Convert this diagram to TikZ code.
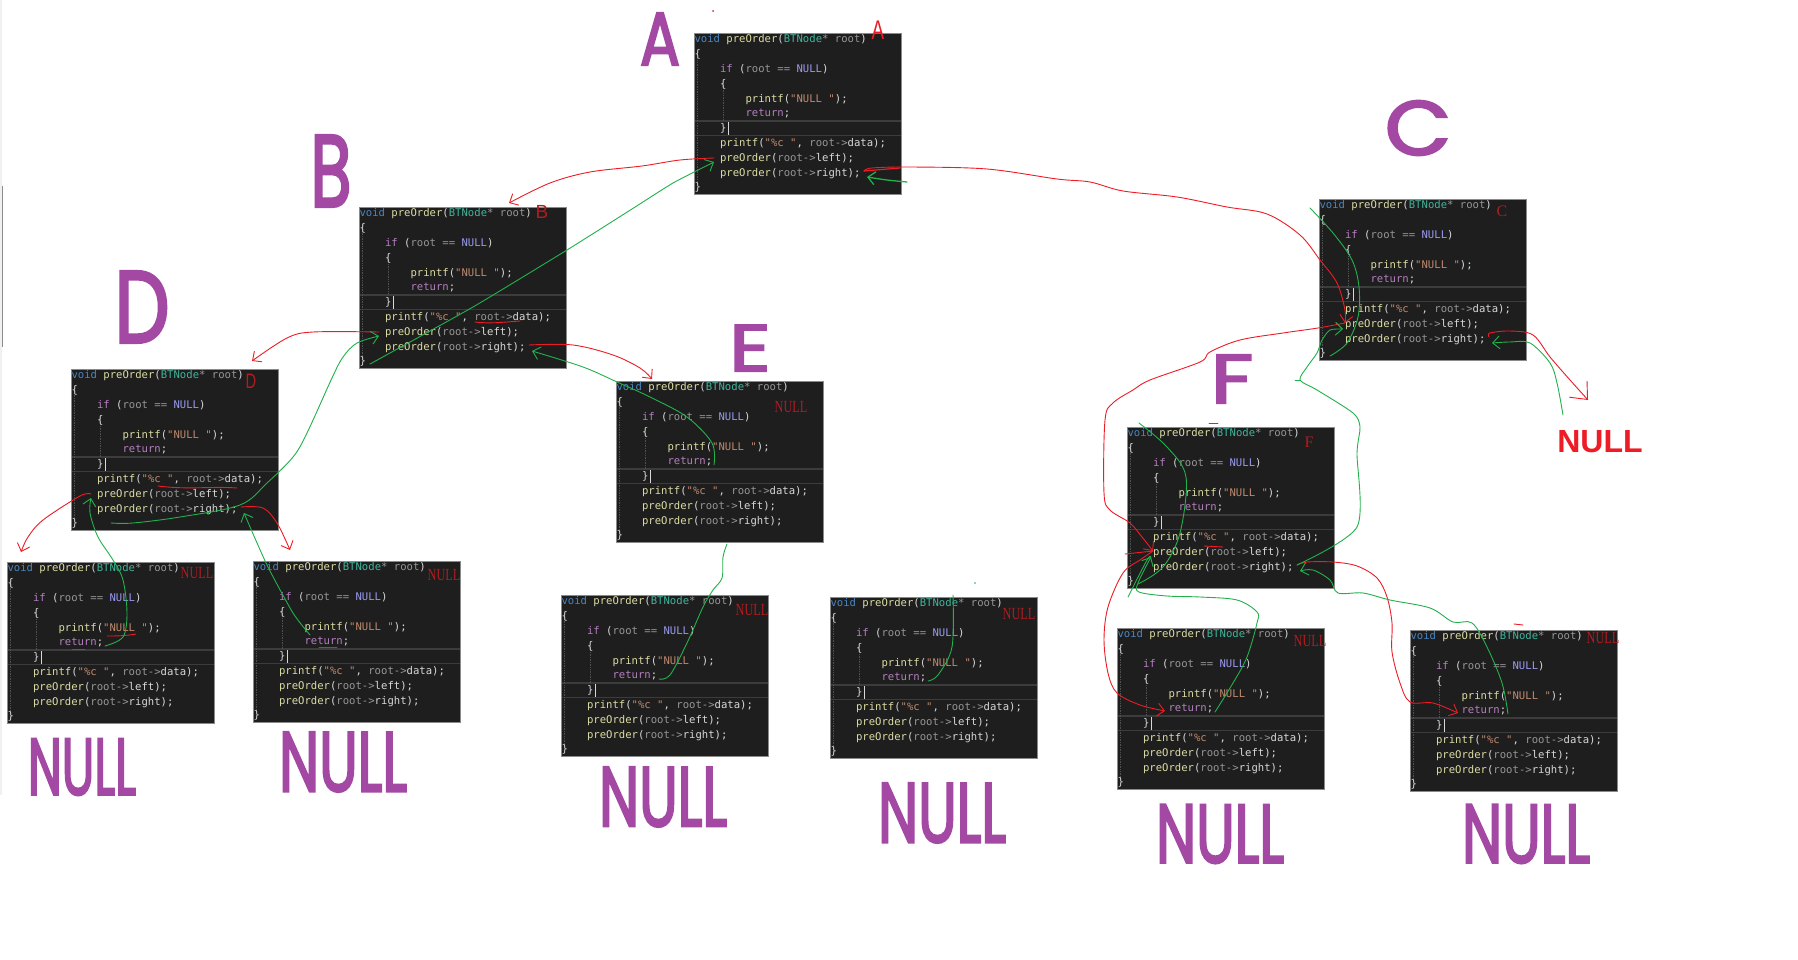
\documentclass[tikz,border=0pt]{standalone}
\usepackage{graphicx}
\usepackage{fontspec}
\usetikzlibrary{arrows.meta}
\newfontfamily\codefont{DejaVu Sans Mono}
\newfontfamily\handfont[FakeBold=3]{Poppins}
\newfontfamily\serifred{Liberation Serif}
\newfontfamily\sansred{Liberation Sans}
\definecolor{pbg}{HTML}{1E1E1E}
\definecolor{pedge}{HTML}{8A8A8A}
\definecolor{psep}{HTML}{3C3C3C}
\definecolor{cvoid}{HTML}{4A86C0}
\definecolor{cfn}{HTML}{DCDCA4}
\definecolor{cty}{HTML}{3FB59C}
\definecolor{cdim}{HTML}{969696}
\definecolor{cplain}{HTML}{D8D8D8}
\definecolor{ckw}{HTML}{B57FC0}
\definecolor{cmac}{HTML}{9A9AF0}
\definecolor{cstr}{HTML}{C08A6E}
\definecolor{handpurple}{HTML}{A349A4}
\definecolor{penred}{HTML}{EE1C25}
\definecolor{pengreen}{HTML}{22B14C}
\definecolor{labred}{HTML}{B01C20}
\newcommand{\kwc}[2]{\textcolor{#1}{#2}}
\newcommand{\callline}[1]{~~~~\kwc{cfn}{preOrder}\kwc{cplain}{(}\kwc{cdim}{root->}\kwc{cplain}{#1);}}
\newcommand{\panelcode}{%
\spaceskip=6.38pt\relax
\xspaceskip=6.38pt\relax
\kwc{cvoid}{void} \kwc{cfn}{preOrder}\kwc{cplain}{(}\kwc{cty}{BTNode}\kwc{cdim}{* root}\kwc{cplain}{)}\\
\kwc{cplain}{\{}\\
~~~~\kwc{ckw}{if} \kwc{cplain}{(}\kwc{cdim}{root == }\kwc{cmac}{NULL}\kwc{cplain}{)}\\
~~~~\kwc{cplain}{\{}\\
~~~~~~~~\kwc{cfn}{printf}\kwc{cplain}{(}\kwc{cstr}{"NULL "}\kwc{cplain}{);}\\
~~~~~~~~\kwc{ckw}{return}\kwc{cplain}{;}\\
~~~~\kwc{cplain}{\}}\\
~~~~\kwc{cfn}{printf}\kwc{cplain}{(}\kwc{cstr}{"\%c "}\kwc{cplain}{, }\kwc{cdim}{root->}\kwc{cplain}{data);}\\
\callline{left}\\
\callline{right}\\
\kwc{cplain}{\}}}
\newcommand{\codepanel}[3]{%
\begin{scope}[shift={(#2,#3)}]
\node[panelbox] (#1) at (0,0) {};
\draw[sepline] (1,88) -- (207,88);
\draw[sepline] (1,102.5) -- (207,102.5);
\draw[guide] (3,17) -- (3,150);
\draw[guide] (29,50) -- (29,88);
\draw[cplain,line width=0.6pt] (34,89) -- (34,102);
\node[codetext] (#1code) at (0.5,1.8) {\panelcode};
\coordinate (#1lo) at (20,125);
\coordinate (#1li) at (20,129);
\coordinate (#1lc) at (26,124);
\coordinate (#1ld) at (24,130);
\coordinate (#1ro) at (170,138);
\coordinate (#1ri) at (173,144);
\coordinate (#1re) at (98,84);
\coordinate (#1rs) at (48,83);
\coordinate (#1en) at (11,157);
\end{scope}}
\newcommand{\handlabel}[6]{\node[handtext] (#1) at (#2,#3) {\resizebox{#4pt}{#5pt}{\handfont #6}};}
\newcommand{\nulltag}[3]{\node[tagtext] (#1) at (#2,#3) {\scalebox{0.72}[1]{NULL}};}
\tikzset{
 panelbox/.style={anchor=north west,minimum width=207.5pt,minimum height=161pt,inner sep=0pt,outer sep=0pt,fill=pbg,draw=pedge,line width=0.8pt},
 sepline/.style={draw=psep,line width=1.2pt},
 guide/.style={draw=psep!90!white,line width=0.7pt,densely dotted},
 codetext/.style={anchor=north west,inner sep=0pt,outer sep=0pt,text width=207pt,align=left,font=\codefont\fontsize{10.6}{14.8}\selectfont},
 handtext/.style={inner sep=0pt,outer sep=0pt,text=handpurple},
 tagtext/.style={inner sep=0pt,outer sep=0pt,text=labred,font=\serifred\fontsize{17}{17}\selectfont},
 penbase/.style={line width=0.9pt,line cap=round,line join=round,>={Straight Barb[length=7pt,width=13pt]}},
 redpen/.style={penbase,draw=penred},
 greenpen/.style={penbase,draw=pengreen},
}
\begin{document}
\begin{tikzpicture}[x=1pt,y=-1pt]
\useasboundingbox (0,0) rectangle (1798,960);
\fill[white] (0,0) rectangle (1798,960);
\fill[black!6] (0,0) rectangle (2,795);
\draw[black!45,line width=1.1pt] (2.5,186) -- (2.5,347);

\codepanel{A}{694}{33}
\codepanel{B}{359}{207}
\codepanel{C}{1319}{199}
\codepanel{D}{71}{369}
\codepanel{E}{616}{381}
\codepanel{F}{1127}{427}
\codepanel{DL}{7}{562}
\codepanel{DR}{253}{561}
\codepanel{EL}{561}{595}
\codepanel{ER}{830}{597}
\codepanel{FL}{1117}{628}
\codepanel{FR}{1410}{630}

% handwritten purple labels
\handlabel{hA}{660}{39}{40}{52}{A}
\handlabel{hB}{331}{171}{41}{71}{B}
\handlabel{hD}{142}{307}{55}{71}{D}
\handlabel{hC}{1418}{128}{66}{54}{C}
\handlabel{hE}{750}{348}{41}{46}{E}
\handlabel{hF}{1232}{379}{42}{48}{F}
\handlabel{hDL}{82}{767}{108}{56}{NULL}
\handlabel{hDR}{343}{762}{128}{59}{NULL}
\handlabel{hEL}{663}{797}{128}{59}{NULL}
\handlabel{hER}{942}{813}{128}{59}{NULL}
\handlabel{hFL}{1220}{834}{128}{58}{NULL}
\handlabel{hFR}{1526}{834}{128}{58}{NULL}

% labels on the panels
\node[inner sep=0pt,text=penred,font=\sansred\bfseries\fontsize{32}{32}\selectfont] (bigNull) at (1600,442) {NULL};
\nulltag{tDL}{197}{573}
\nulltag{tDR}{444}{575}
\nulltag{tE}{791}{407}
\nulltag{tEL}{752}{610}
\nulltag{tER}{1019}{614}
\nulltag{tFL}{1310}{641}
\nulltag{tFR}{1603}{638}
\node[tagtext,font=\serifred\fontsize{16}{16}\selectfont] (tC) at (1502,211) {C};
\node[tagtext,font=\serifred\fontsize{16}{16}\selectfont] (tF) at (1309,442) {F};
\node[inner sep=0pt,text=penred,font=\sansred\fontsize{27}{27}\selectfont] (tA) at (878,30) {\scalebox{0.7}[1]{A}};
\node[inner sep=0pt,text=labred,font=\sansred\fontsize{19}{19}\selectfont] (tB) at (542,212) {B};
\node[inner sep=0pt,text=labred,font=\sansred\fontsize{21}{21}\selectfont] (tD) at (251,381) {\scalebox{0.7}[1]{D}};

% free ends
\coordinate (Btip) at (509,203);
\coordinate (Dtip) at (252,361);
\coordinate (Etip) at (652,379);
\coordinate (DLtip) at (21,552);
\coordinate (DRtip) at (290,550);
\coordinate (nullTip) at (1588,400);
\coordinate (Dtail) at (111,523);
\coordinate (DRret) at (310,635);
\coordinate (nullTail) at (1563,415);

% red calls
\draw[redpen,->] plot[smooth,tension=0.55] coordinates {(Alo) (680,160) (642,166) (590,172) (550,183) (Btip)};
\draw[redpen,->] plot[smooth,tension=0.55] coordinates {(Aro) (872,168) (910,167) (987,169) (1057,179) (1090,182) (1123,191) (1177,197) (1227,207) (1267,214) (1300,235) (1320,260) (1337,283) (1345,310) (Clc)};
\draw[redpen,->] plot[smooth,tension=0.55] coordinates {(Clc) (1318,328) (1283,333) (1240,340) (1210,352) (1200,362) (1150,380) (1133,390) (1113,403) (1105,420) (1104,493) (1110,510) (1130,523) (1142,537) (Flc)};
\draw[redpen,->] plot[smooth,tension=0.55] coordinates {(Flc) (1140,560) (1123,573) (1108,607) (1104,640) (1108,673) (1117,693) (1140,705) (FLrs)};
\draw[redpen,->] plot[smooth,tension=0.55] coordinates {(Fro) (1307,562) (1333,562) (1357,566) (1377,578) (1387,597) (1392,623) (1392,652) (1400,683) (1410,702) (1433,703) (FRrs)};
\draw[redpen,->,>={Straight Barb[length=14pt,width=24pt]}] plot[smooth,tension=0.55] coordinates {(Cro) (1490,333) (1510,331) (1533,335) (1550,357) (1570,380) (nullTip)};
\draw[redpen,->] plot[smooth,tension=0.55] coordinates {(Blo) (313,332) (287,338) (Dtip)};
\draw[redpen,->] plot[smooth,tension=0.55] coordinates {(Bro) (573,345) (613,355) (640,368) (Etip)};
\draw[redpen,->] plot[smooth,tension=0.55] coordinates {(Dlo) (80,496) (43,520) (28,537) (DLtip)};
\draw[redpen,->] plot[smooth,tension=0.55] coordinates {(Dro) (263,508) (277,523) (DRtip)};
\draw[redpen,line width=1.2pt] (Aro) -- (900,168);
\draw[redpen] (1125,554) -- (Flc);

% red marks
\draw[redpen] (158,486) .. controls (190,490) and (210,486) .. (237,488);
\draw[redpen] (107,636) .. controls (115,636) and (125,636) .. (136,634);
\draw[redpen] (72,649) -- (85,649);
\draw[redpen] (319,647) -- (337,647);
\draw[redpen] (475,322) .. controls (490,324) and (505,322) .. (520,321);
\draw[redpen] (1204,546) -- (1223,547);
\draw[redpen] (1209,423) -- (1218,423);
\draw[redpen] (1514,624) -- (1523,625);
\fill[penred] (713,11) circle (1pt);
\fill[pengreen] (975,583) circle (0.8pt);

% green returns
\draw[greenpen,->,line width=1.3pt] plot[smooth,tension=0.55] coordinates {(907,182) (887,180) (Ari)};
\draw[greenpen,->] plot[smooth,tension=0.3] coordinates {(Ben) (473,307) (567,250) (632,209) (673,183) (Ali)};
\draw[greenpen,->] plot[smooth,tension=0.55] coordinates {(Dtail) (133,523) (180,517) (240,505) (267,483) (293,457) (307,433) (332,378) (343,357) (357,343) (Bli)};
\draw[greenpen,->] plot[smooth,tension=0.55] coordinates {(DLre) (123,637) (127,613) (123,580) (113,560) (98,537) (90,513) (Dli)};
\draw[greenpen,->] plot[smooth,tension=0.4] coordinates {(DRret) (293,613) (267,565) (Dri)};
\draw[greenpen,->] plot[smooth,tension=0.55] coordinates {(Ere) (712,443) (687,417) (650,397) (617,382) (583,367) (Bri)};
\draw[greenpen] plot[smooth,tension=0.55] coordinates {(ELre) (670,675) (687,643) (703,607) (713,590) (722,578) (723,557) (727,544)};
\draw[greenpen] plot[smooth,tension=0.55] coordinates {(ERre) (938,675) (952,647) (953,595)};
\draw[greenpen,->] plot[smooth,tension=0.55] coordinates {(FLre) (1233,683) (1247,657) (1257,623) (1257,612) (1237,600) (1200,597) (1167,596) (1139,592) (1138,583) (Fld)};
\draw[greenpen,->] plot[smooth,tension=0.55] coordinates {(FRre) (1502,683) (1487,647) (1472,623) (1453,622) (1430,608) (1390,600) (1363,593) (1338,593) (1330,580) (1313,570) (Fri)};
\draw[greenpen] plot[smooth,tension=0.55] coordinates {(1139,423) (1167,447) (1186,477) (1180,533) (1163,567) (Fen)};
\draw[greenpen] plot[smooth,tension=0.55] coordinates {(1128,597) (1147,560) (Fld)};
\draw[greenpen,->] plot[smooth,tension=0.45] coordinates {(Fro) (1357,527) (1357,453) (1360,427) (1353,413) (1317,390) (1300,380) (1307,367) (1317,353) (1322,340) (1330,330) (Cld)};
\draw[greenpen] (1295,380) -- (1300,380);
\draw[greenpen] plot[smooth,tension=0.55] coordinates {(1310,208) (1333,233) (1352,260) (1359,287) (1358,317) (1347,343) (Cen)};
\draw[greenpen,->] plot[smooth,tension=0.55] coordinates {(nullTail) (1557,383) (1550,363) (1530,343) (1510,342) (Cri)};
\end{tikzpicture}
\end{document}
